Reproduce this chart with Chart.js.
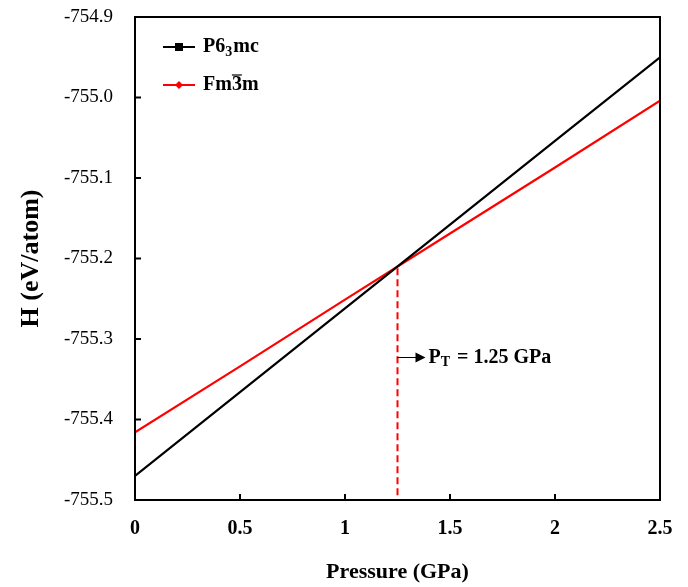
<!DOCTYPE html>
<html>
<head>
<meta charset="utf-8">
<script src="https://cdn.jsdelivr.net/npm/chart.js@4/dist/chart.umd.min.js"></script>
<style>
  html, body { margin: 0; padding: 0; background: #fff; }
  #wrap { width: 688px; height: 587px; }
</style>
</head>
<body>
<div id="wrap"><canvas id="enthalpyChart"></canvas></div>
<script>
// pressure (GPa) vs enthalpy (eV/atom) for the two phases
const pressure = [0, 0.5, 1, 1.5, 2, 2.5];
const hexPhase = [-755.470, -755.366, -755.262, -755.158, -755.054, -754.950];
const cubicPhase = [-755.416, -755.334, -755.251, -755.169, -755.087, -755.004];
const hexLabel = "P6\u2083mc";
const cubicLabel = "Fm3\u0305m";

// phase transition point
const transitionP = 1.25;
const transitionH = -755.212;
const transitionLabel = "= 1.25 GPa";

const yMin = -755.5, yMax = -754.9;
const serif = "'Liberation Serif', 'Times New Roman', serif";

const toPoints = (xs, ys) => xs.map((x, i) => ({ x: x, y: ys[i] }));

// inward ticks, box frame, transition marker and the legend
const extras = {
  id: 'extras',
  afterDatasetsDraw(chart) {
    const ctx = chart.ctx;
    const a = chart.chartArea;
    const xs = chart.scales.x, ys = chart.scales.y;
    ctx.save();

    // dashed line at the transition pressure
    const px = xs.getPixelForValue(transitionP);
    ctx.strokeStyle = '#ff0000';
    ctx.lineWidth = 2;
    ctx.setLineDash([7, 4]);
    ctx.beginPath();
    ctx.moveTo(px, ys.getPixelForValue(transitionH));
    ctx.lineTo(px, a.bottom);
    ctx.stroke();
    ctx.setLineDash([]);

    // arrow and label
    const ay = ys.getPixelForValue(-755.323);
    ctx.strokeStyle = '#000';
    ctx.lineWidth = 1;
    ctx.beginPath();
    ctx.moveTo(px, ay);
    ctx.lineTo(px + 20, ay);
    ctx.stroke();
    ctx.fillStyle = '#000';
    ctx.beginPath();
    ctx.moveTo(px + 28, ay);
    ctx.lineTo(px + 18, ay - 5);
    ctx.lineTo(px + 18, ay + 5);
    ctx.closePath();
    ctx.fill();
    ctx.textBaseline = 'middle';
    ctx.textAlign = 'left';
    ctx.font = "bold 20px " + serif;
    let tx = px + 31;
    ctx.fillText('P', tx, ay);
    tx += ctx.measureText('P').width;
    ctx.font = "bold 14px " + serif;
    ctx.fillText('T', tx, ay + 5);
    tx += ctx.measureText('T').width + 7;
    ctx.font = "bold 20px " + serif;
    ctx.fillText(transitionLabel, tx, ay);

    // inward ticks
    ctx.strokeStyle = '#000';
    ctx.lineWidth = 2;
    ys.ticks.forEach(t => {
      const y = ys.getPixelForValue(t.value);
      ctx.beginPath();
      ctx.moveTo(a.left, y);
      ctx.lineTo(a.left + 6, y);
      ctx.stroke();
    });
    xs.ticks.forEach(t => {
      const x = xs.getPixelForValue(t.value);
      ctx.beginPath();
      ctx.moveTo(x, a.bottom);
      ctx.lineTo(x, a.bottom - 6);
      ctx.stroke();
    });

    // frame
    ctx.strokeRect(a.left, a.top, a.right - a.left, a.bottom - a.top);

    // legend
    const entries = [
      { label: hexLabel, color: '#000', marker: 'square' },
      { label: cubicLabel, color: '#ff0000', marker: 'diamond' }
    ];
    entries.forEach((e, i) => {
      const ly = a.top + 30 + i * 38;
      const lx = a.left + 28;
      ctx.strokeStyle = e.color;
      ctx.fillStyle = e.color;
      ctx.lineWidth = 2;
      ctx.beginPath();
      ctx.moveTo(lx, ly);
      ctx.lineTo(lx + 32, ly);
      ctx.stroke();
      const mx = lx + 16;
      ctx.beginPath();
      if (e.marker === 'square') {
        ctx.rect(mx - 4, ly - 4, 8, 8);
      } else {
        ctx.moveTo(mx, ly - 4);
        ctx.lineTo(mx + 4, ly);
        ctx.lineTo(mx, ly + 4);
        ctx.lineTo(mx - 4, ly);
        ctx.closePath();
      }
      ctx.fill();
      ctx.fillStyle = '#000';
      ctx.font = "bold 20px " + serif;
      ctx.textAlign = 'left';
      ctx.textBaseline = 'middle';
      if (i === 0) {
        let x = lx + 40;
        ctx.fillText('P6', x, ly);
        x += ctx.measureText('P6').width;
        ctx.font = "bold 14px " + serif;
        ctx.fillText('3', x, ly + 5);
        x += ctx.measureText('3').width + 1;
        ctx.font = "bold 20px " + serif;
        ctx.fillText('mc', x, ly);
      } else {
        const x = lx + 40;
        ctx.fillText('Fm3m', x, ly);
        // bar over the 3
        const w0 = ctx.measureText('Fm').width;
        const w3 = ctx.measureText('3').width;
        ctx.lineWidth = 1.2;
        ctx.strokeStyle = '#000';
        ctx.beginPath();
        ctx.moveTo(x + w0, ly - 10);
        ctx.lineTo(x + w0 + w3, ly - 10);
        ctx.stroke();
      }
    });
    ctx.restore();
  }
};

new Chart('enthalpyChart', {
  type: 'scatter',
  data: {
    datasets: [
      {
        label: hexLabel,
        data: toPoints(pressure, hexPhase),
        showLine: true,
        borderColor: '#000000',
        borderWidth: 2.2,
        pointRadius: 0,
        tension: 0
      },
      {
        label: cubicLabel,
        data: toPoints(pressure, cubicPhase),
        showLine: true,
        borderColor: '#ff0000',
        borderWidth: 2.2,
        pointRadius: 0,
        tension: 0
      }
    ]
  },
  options: {
    responsive: true,
    maintainAspectRatio: false,
    animation: false,
    layout: { padding: { top: 17, right: 28, left: 0, bottom: 0 } },
    plugins: {
      legend: { display: false },
      tooltip: { enabled: false }
    },
    scales: {
      x: {
        type: 'linear',
        min: 0,
        max: 2.5,
        ticks: {
          stepSize: 0.5,
          padding: 9,
          color: '#000',
          font: { family: serif, size: 20, weight: 'bold' },
          callback: v => String(v)
        },
        grid: { display: false },
        border: { display: true, color: '#000', width: 2 },
        title: {
          display: true,
          text: 'Pressure (GPa)',
          color: '#000',
          font: { family: serif, size: 22, weight: 'bold' },
          padding: { top: 0, bottom: 1 }
        },
        afterFit(s) { s.height = 87; s.paddingLeft = 0; s.paddingRight = 0; }
      },
      y: {
        min: yMin,
        max: yMax,
        ticks: {
          stepSize: 0.1,
          padding: 14,
          color: '#000',
          font: { family: serif, size: 19 },
          callback: v => v.toFixed(1)
        },
        grid: { display: false },
        border: { display: true, color: '#000', width: 2 },
        title: {
          display: true,
          text: 'H (eV/atom)',
          color: '#000',
          font: { family: serif, size: 26, weight: 'bold' },
          padding: { top: 16, bottom: 0 }
        },
        afterFit(s) { s.width = 135; s.paddingTop = 0; s.paddingBottom = 0; }
      }
    }
  },
  plugins: [extras]
});
</script>
</body>
</html>
